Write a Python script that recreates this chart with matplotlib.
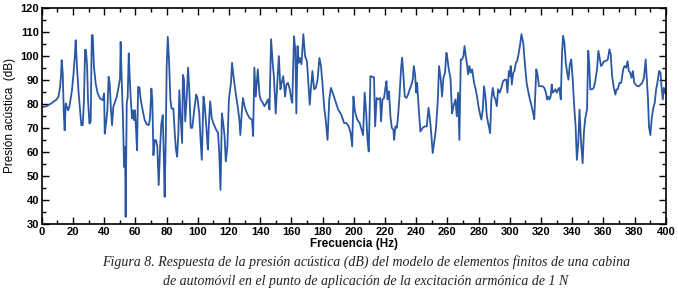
import matplotlib
matplotlib.use("Agg")
import matplotlib.pyplot as plt
from matplotlib.ticker import MultipleLocator

# frequency (Hz) and acoustic pressure (dB)
freq = [
    0, 1.1, 3.2, 5.3, 7.5, 9.6, 10.7, 11.8, 12.4, 12.8, 13.5, 14.1, 14.7, 15.4,
    16.2, 16.9, 17.7, 18.6, 19.4, 20.3, 21.2, 21.8, 22.6, 23.7, 24.6, 25.4, 26.3,
    27.1, 27.8, 28.4, 29.1, 29.7, 30.6, 31.4, 32.1, 32.7, 33.5, 34.6, 35.9, 37.4,
    39.1, 40, 40.4, 41.2, 42.1, 42.9, 43.6, 44.4, 45.1, 45.9, 47, 48.1, 49.1,
    50.2, 50.6, 51.3, 52.1, 52.8, 53.4, 53.8, 54.5, 55.1, 55.8, 56.4, 57.1, 57.9,
    58.5, 59.2, 59.8, 60.5, 61.1, 61.8, 62.6, 63.5, 64.7, 66, 67.3, 68.6, 69.4,
    70.3, 70.9, 71.6, 72.4, 73.3, 74.1, 75, 75.9, 76.7, 77.6, 78.2, 78.8, 79.5,
    80.1, 80.8, 81.6, 82.5, 83.3, 84.4, 85.3, 86.1, 86.8, 87.6, 88.2, 89, 90,
    90.5, 91.2, 92, 93, 93.8, 94.6, 95.5, 96.5, 97.8, 99, 99.8, 101, 101.7,
    102.6, 103.7, 104.5, 105.8, 106.5, 107.3, 108, 109, 110, 111.8, 113, 113.8,
    114.6, 115.5, 116.3, 117.2, 118, 119, 120, 121.3, 122, 123, 124.3, 125.6,
    126.7, 127.3, 128.2, 129, 130, 131.6, 133.3, 134.8, 135.5, 136.3, 137.2,
    138.5, 139.6, 140.3, 141.7, 142.8, 144, 145, 146, 147, 148.2, 148.8, 150,
    151, 152, 153, 153.8, 154.8, 156, 156.8, 157.8, 159, 160, 160.6, 161.7,
    162.6, 163.2, 164, 164.7, 165.4, 166.5, 167.2, 167.7, 168.8, 170, 171, 171.8,
    172.5, 173.5, 174.6, 175.7, 176.8, 178, 179, 180, 181, 182, 183.2, 184.3,
    185.4, 186.5, 190, 192, 193.8, 195.3, 196.8, 198, 199, 199.8, 200.6, 201.3,
    202.3, 203.8, 205, 206, 207, 208, 208.8, 209.6, 210.7, 211.8, 213, 213.7,
    214.7, 215.8, 216.9, 217.5, 218.4, 219.4, 220.3, 221, 221.6, 222.6, 223.5,
    224.4, 225.4, 225.9, 226.7, 227.6, 228.4, 229.3, 230.3, 231, 231.8, 232.7,
    233.8, 234.8, 235.9, 237, 237.8, 238.5, 239.3, 240, 240.6, 241.7, 242.7,
    244.2, 245.5, 246.8, 247.9, 248.9, 249.8, 250.6, 251.5, 252.6, 253.8, 254.7,
    255.8, 256.6, 257.5, 258.5, 259.4, 260, 260.9, 262, 263, 263.9, 265.2, 266,
    266.9, 267.7, 268.6, 269.4, 270.3, 271, 271.8, 272.6, 273.3, 274.1, 275,
    275.9, 277.1, 278.2, 279.3, 280.1, 281, 281.8, 282.7, 283.5, 284.4, 285.3,
    286.1, 286.8, 287.4, 288.2, 289.1, 290, 290.8, 291.7, 292.5, 293.5, 294.6,
    295.7, 296.8, 297.8, 298.5, 299.4, 300, 300.6, 301.3, 302.2, 303, 303.9,
    304.7, 305.4, 306.5, 307.5, 308.6, 309.7, 310.8, 311.8, 312.9, 314, 315,
    315.7, 316.3, 317, 317.8, 318.7, 319.8, 321, 322.1, 323.2, 323.9, 324.7,
    325.4, 326.2, 326.9, 327.5, 328.4, 329.2, 330.1, 331, 331.8, 332.7, 333.5,
    334.2, 335, 335.9, 336.8, 337.6, 338.5, 339.4, 340.2, 341.3, 342.2, 343,
    343.9, 344.7, 345.6, 346.7, 347.5, 348.4, 349.5, 350.3, 351, 351.6, 352.7,
    353.8, 354.8, 355.9, 356.8, 357.6, 358.5, 359.4, 360.4, 361.5, 362.8, 363.9,
    364.7, 365.6, 366.7, 367.7, 368.4, 369.2, 370.3, 371.4, 372.7, 373.5, 374.6,
    375.5, 376.3, 377.2, 378.1, 378.9, 379.8, 380.6, 381.7, 382.8, 383.9, 384.9,
    386, 387.1, 387.7, 388.6, 389.2, 390.1, 391, 392, 392.9, 393.8, 394.6, 395.7,
    396.6, 397.4, 398.1, 398.7, 399.4, 400,
]
spl = [
    79, 78.7, 79, 79.8, 80.8, 81.8, 82.9, 87, 91.9, 98.1, 92.6, 77.3, 69, 80.1,
    78.7, 77.3, 78.7, 82.2, 85.6, 91.9, 99.5, 106.4, 95.3, 84.3, 77.3, 71.1, 71.1,
    81.5, 102.5, 102.3, 95.3, 81.5, 71.8, 72.5, 108.5, 108.5, 95.3, 88.4, 84.3, 82.2,
    81.5, 84.3, 67.6, 71.8, 77.3, 91.2, 88.4, 77.3, 71.1, 78.7, 80.8, 82.9, 86.3,
    90.5, 105.7, 89.8, 73.9, 53.8, 62.1, 33, 80.1, 82.9, 100.9, 91.2, 81.5, 73.9,
    77.3, 73.2, 77.3, 69, 60.7, 87, 86.8, 81.5, 77.3, 73.2, 71.5, 71.1, 73.9,
    86.3, 81.5, 58.6, 64.9, 64.9, 62.1, 46.2, 62.1, 71.8, 75.3, 59.3, 41.3, 64.9,
    95.3, 107.8, 98.1, 81.5, 78, 78, 67.6, 60.7, 58, 67.6, 85.6, 74.8, 63.7,
    92, 90, 72.7, 83, 95, 86, 70, 70, 77.6, 83.8, 82.4, 76, 66.6,
    56.7, 83, 79, 68, 61, 73.4, 81, 74, 72, 69.2, 68, 59.5,
    44.2, 76, 72, 66.6, 56, 62.3, 82, 88.7, 97, 91, 84.6, 79,
    73.4, 67, 76, 82.4, 79, 76, 74, 73.4, 66.6, 95, 83,
    94.3, 83.8, 81.8, 80.4, 79, 80.4, 81.8, 77.6, 106.8, 95.7, 91.5, 76,
    88.7, 99.8, 86, 88.7, 91.5, 83, 88, 88.7, 86, 81.8, 80.4, 108,
    102, 76, 104, 97, 99, 96.4, 104, 108.9, 99.8, 97.7, 87.3, 79.6,
    86, 93.6, 86, 86.6, 90, 99, 95.7, 88, 79, 73.4, 65, 81.8,
    86.6, 84.6, 77.6, 75.5, 72, 72, 70.6, 67.8, 62.3, 83, 77.6, 75.5,
    73.4, 72, 69.2, 67, 84.6, 76, 65, 60.2, 91.5, 91.2, 91, 70.6,
    82.4, 81.8, 82.4, 72.7, 81.8, 82.4, 86.6, 89.4, 81.8, 85.2, 74.8,
    70, 69.2, 65, 70.6, 70, 74.8, 83, 94.3, 99.2, 92.2, 83,
    82.4, 83.8, 86, 88, 90, 95.7, 92.2, 84.6, 88.7, 77.6, 68.5,
    70, 70.6, 70.6, 78.3, 73.4, 66.6, 59.5, 63.7, 69.2, 80.4, 95.7,
    90, 83, 90.8, 92.9, 101.2, 99, 94.3, 90.8, 76, 79, 81.8, 74.8,
    84.6, 65, 98.4, 98.4, 99.8, 104, 99.8, 96.4, 92.2, 95.7, 92.9,
    94.3, 88.7, 86, 81.8, 78.3, 75.5, 73.4, 77.6, 87.3, 83, 74.8,
    72, 70, 67.8, 81.8, 86.6, 83, 81.8, 79, 86, 84.6, 86.6,
    89.4, 90, 90, 84.6, 93.6, 91.5, 95.7, 88, 92.9, 93.6, 97,
    97.7, 99.8, 104, 108.9, 105.4, 96.4, 88.7, 85.2, 81.8, 79, 76,
    73.6, 83, 94.3, 92.2, 87.3, 87.3, 87.3, 86.6, 84.6, 81.8, 83,
    81.8, 83, 88, 84.6, 85.2, 86, 84.6, 86, 86.6, 81.8, 101.2,
    108.2, 105.4, 97, 92.9, 90, 96.4, 98.4, 91.5, 79, 70.6, 56.7,
    63.7, 77.6, 65, 55.3, 68, 74, 77.6, 102, 95.7, 86, 86,
    86.6, 89.4, 94.3, 102, 99, 95.7, 96.4, 97.7, 97.7, 98.4, 102.6,
    100.5, 91.5, 86.6, 83.8, 86, 86, 88.7, 88.7, 94.3, 95.7, 95,
    97.7, 93.6, 92.9, 90.8, 93.6, 88.7, 88, 87.3, 87.3, 88, 88.7,
    90.8, 98.4, 91.5, 81.8, 70.6, 67, 74, 78.3, 80.4, 86, 88.7, 93.6,
    92.9, 86, 81.8, 86.6, 84.6, 86,
]

caption = [
    "Figura 8. Respuesta de la presión acústica (dB) del modelo de elementos finitos de una cabina",
    "de automóvil en el punto de aplicación de la excitación armónica de 1 N",
]

plt.rcParams["font.family"] = ["Liberation Sans", "DejaVu Sans"]

fig = plt.figure(figsize=(6.78, 3.0), dpi=100)
ax = fig.add_axes([0.0615, 0.253, 0.9205, 0.722])
ax.plot(freq, spl, color="#2b58a3", linewidth=1.3)

ax.set_xlim(0, 400)
ax.set_ylim(30, 120)
ax.xaxis.set_major_locator(MultipleLocator(20))
ax.xaxis.set_minor_locator(MultipleLocator(10))
ax.yaxis.set_major_locator(MultipleLocator(10))
ax.yaxis.set_minor_locator(MultipleLocator(5))
ax.tick_params(which="both", direction="in", top=True, right=True, width=1.0)
ax.tick_params(which="major", length=5, labelsize=8, pad=2)
ax.tick_params(which="minor", length=3)
for lab in ax.get_xticklabels() + ax.get_yticklabels():
    lab.set_fontweight("bold")
for sp in ax.spines.values():
    sp.set_linewidth(1.2)

ax.set_xlabel("Frecuencia (Hz)", fontsize=8.5, fontweight="bold", labelpad=1)
ax.set_ylabel("Presión acústica  (dB)", fontsize=8.5, labelpad=3)

fig.text(0.54, 0.125, caption[0], ha="center", va="center", fontsize=10,
         family="Liberation Serif", style="italic", color="#222222")
fig.text(0.54, 0.062, caption[1], ha="center", va="center", fontsize=10,
         family="Liberation Serif", style="italic", color="#222222")

fig.savefig("out.png", dpi=100)
